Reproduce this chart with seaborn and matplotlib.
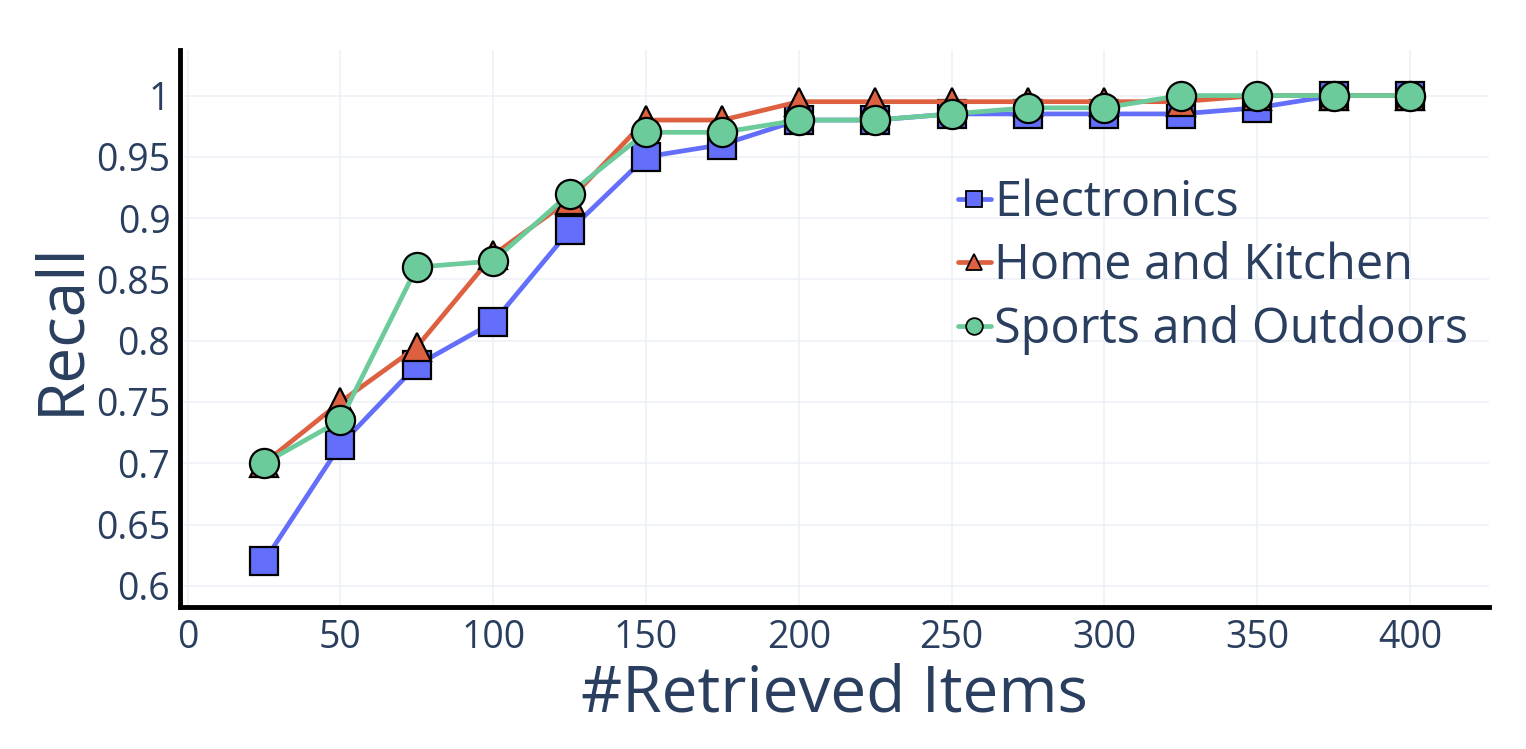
import matplotlib
matplotlib.use("Agg")
import matplotlib.pyplot as plt
import seaborn as sns
import pandas as pd
from matplotlib.lines import Line2D

retrieved = [25, 50, 75, 100, 125, 150, 175, 200, 225, 250, 275, 300, 325, 350, 375, 400]
electronics = [0.62, 0.715, 0.78, 0.815, 0.89, 0.95, 0.96, 0.98, 0.98, 0.985, 0.985, 0.985, 0.985, 0.99, 1.0, 1.0]
home_kitchen = [0.70, 0.75, 0.795, 0.87, 0.915, 0.98, 0.98, 0.995, 0.995, 0.995, 0.995, 0.995, 0.995, 1.0, 1.0, 1.0]
sports = [0.70, 0.735, 0.86, 0.865, 0.92, 0.97, 0.97, 0.98, 0.98, 0.985, 0.99, 0.99, 1.0, 1.0, 1.0, 1.0]
series_names = ["Electronics", "Home and Kitchen", "Sports and Outdoors"]
x_ticks = [0, 50, 100, 150, 200, 250, 300, 350, 400]
y_ticks = [0.6, 0.65, 0.7, 0.75, 0.8, 0.85, 0.9, 0.95, 1.0]
y_tick_labels = ["0.6", "0.65", "0.7", "0.75", "0.8", "0.85", "0.9", "0.95", "1"]

colors = ["#636efa", "#dd6040", "#6ccb9a"]
markers = ["s", "^", "o"]
msizes = [20, 20, 21]

sns.set_theme(style="white")
plt.rcParams['font.family'] = ['Open Sans', 'DejaVu Sans']
text_color = "#2a3f5f"

fig = plt.figure(figsize=(15.26, 7.49), dpi=100)
ax = fig.add_axes([0.118, 0.19, 0.858, 0.743])

df = pd.DataFrame({
    "x": retrieved * 3,
    "y": electronics + home_kitchen + sports,
    "series": [series_names[0]] * len(retrieved) + [series_names[1]] * len(retrieved) + [series_names[2]] * len(retrieved),
})

for i, name in enumerate(series_names):
    sub = df[df["series"] == name]
    sns.lineplot(data=sub, x="x", y="y", ax=ax, color=colors[i], linewidth=3.4,
                 marker=markers[i], markersize=msizes[i], markeredgecolor="black",
                 markeredgewidth=1.6, markerfacecolor=colors[i], zorder=3 + i,
                 legend=False)

ax.set_xlim(-2.5, 426)
ax.set_ylim(0.583, 1.037)
ax.set_xticks(x_ticks)
ax.set_yticks(y_ticks)
ax.set_yticklabels(y_tick_labels)
ax.grid(True, color="#edf1f7", linewidth=1.2)
ax.set_axisbelow(True)
for s in ["top", "right"]:
    ax.spines[s].set_visible(False)
for s in ["left", "bottom"]:
    ax.spines[s].set_color("black")
    ax.spines[s].set_linewidth(3.5)
ax.tick_params(axis="y", labelsize=27, colors=text_color, length=0, pad=7)
ax.tick_params(axis="x", labelsize=27, colors=text_color, length=0, pad=9)
ax.set_xlabel("#Retrieved Items", fontsize=46, color=text_color, labelpad=4)
ax.set_ylabel("Recall", fontsize=46, color=text_color, labelpad=2)

handles = [Line2D([0], [0], color=colors[i], linewidth=3.4, marker=markers[i],
                  markersize=12, markeredgecolor="black", markeredgewidth=1.3,
                  markerfacecolor=colors[i]) for i in range(3)]
leg = ax.legend(handles, series_names, loc="upper left", bbox_to_anchor=(0.594, 0.77),
                frameon=False, fontsize=35, handlelength=0.68, handletextpad=0.07,
                labelspacing=0.29, borderaxespad=0, borderpad=0)
for t in leg.get_texts():
    t.set_color(text_color)

fig.savefig("out.png", dpi=100)
